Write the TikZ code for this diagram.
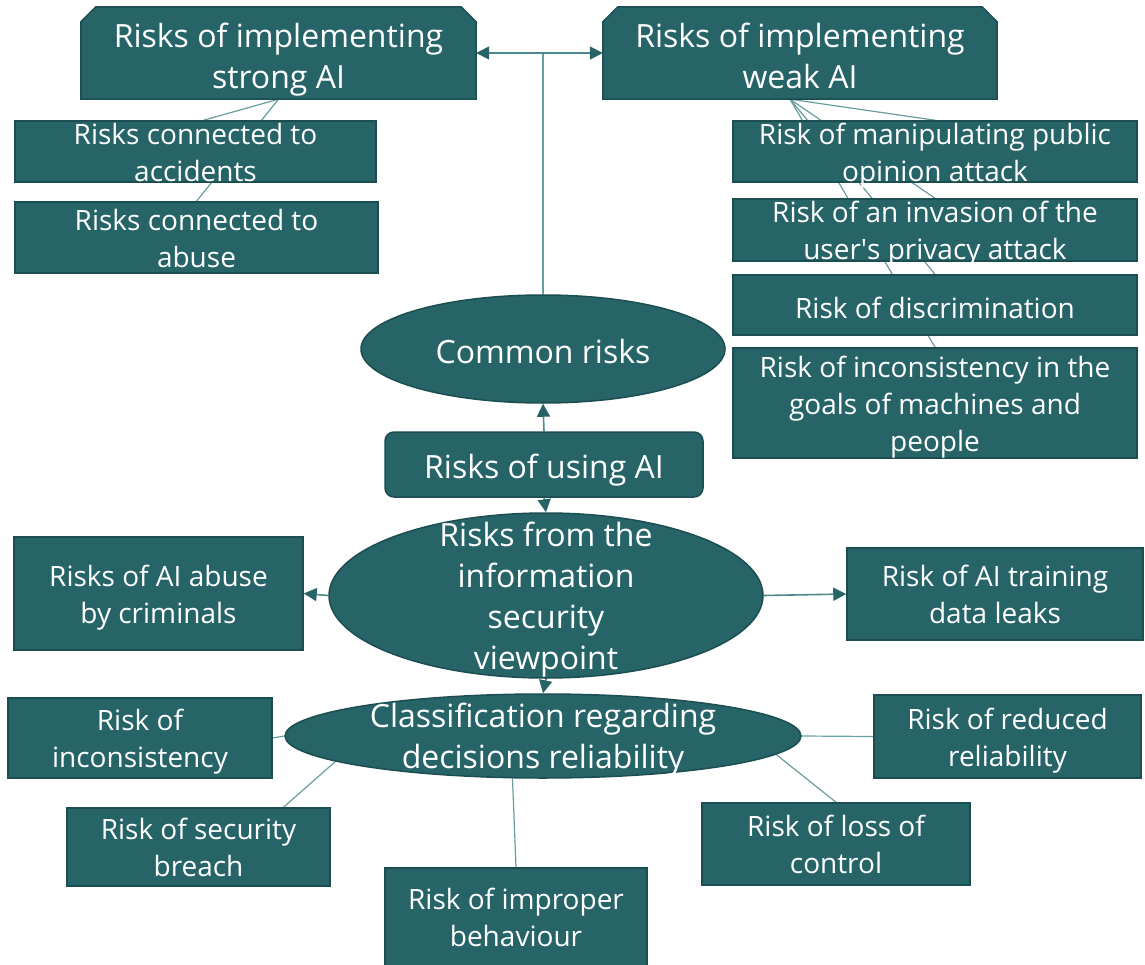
\documentclass[tikz,border=0pt]{standalone}
\usepackage{fontspec}
\setmainfont{Open Sans}
\usetikzlibrary{shapes.geometric,arrows.meta,calc}
\definecolor{boxfill}{RGB}{38,100,104}
\definecolor{boxline}{RGB}{28,78,81}
\definecolor{linkcol}{RGB}{104,156,158}
\definecolor{shaftcol}{RGB}{78,138,140}
\pgfdeclarelayer{links}
\pgfdeclarelayer{plates}
\pgfsetlayers{links,plates,main}

\begin{document}
\begin{tikzpicture}[x=1pt,y=-1pt,
  txt/.style={inner sep=0pt, text=white, align=center, yshift=-6pt,
    execute at begin node=\strut, execute at end node=\strut},
  bigtext/.style={font=\fontsize{32}{41}\selectfont},
  smalltext/.style={font=\fontsize{28}{37}\selectfont},
  riskbox/.style={rectangle, inner sep=0pt, fill=boxfill, draw=boxline, line width=1.5pt},
  oval/.style={ellipse, inner sep=0pt, fill=boxfill, draw=boxline, line width=1.5pt},
  headbox/.style={rectangle, inner sep=0pt},
  plate/.style={fill=boxfill, draw=boxline, line width=1.5pt},
  link/.style={draw=linkcol, line width=1.2pt},
  trunk/.style={draw=linkcol, line width=1.6pt},
  arrowlink/.style={draw=shaftcol, line width=1.6pt,
    -{Triangle[length=13pt,width=13pt,color=boxfill]}},
]
\useasboundingbox (0,0) rectangle (1145,965);

% --- top level: strong / weak AI ---
\node[headbox, minimum width=395pt, minimum height=92pt,
  label={[txt,bigtext,yshift=-3pt]center:{Risks of implementing\\strong AI}}] (strong) at (278.5,53) {};
\node[headbox, minimum width=394pt, minimum height=92pt,
  label={[txt,bigtext,yshift=-3pt]center:{Risks of implementing\\weak AI}}] (weak) at (800,53) {};

% strong AI children
\node[riskbox, minimum width=361pt, minimum height=61pt,
  label={[txt,smalltext]center:{Risks connected to\\accidents}}] (acc) at (195.5,151.5) {};
\node[riskbox, minimum width=363pt, minimum height=71pt,
  label={[txt,smalltext]center:{Risks connected to\\abuse}}] (abuse) at (196.5,237.5) {};

% weak AI children
\node[riskbox, minimum width=404pt, minimum height=61pt,
  label={[txt,smalltext]center:{Risk of manipulating public\\opinion attack}}] (manip) at (935,151.5) {};
\node[riskbox, minimum width=404pt, minimum height=62pt,
  label={[txt,smalltext]center:{Risk of an invasion of the\\user\textquotesingle s privacy attack}}] (privacy) at (935,230) {};
\node[riskbox, minimum width=404pt, minimum height=60pt,
  label={[txt,smalltext]center:{Risk of discrimination}}] (discr) at (935,305) {};
\node[riskbox, minimum width=404pt, minimum height=110pt,
  label={[txt,smalltext]center:{Risk of inconsistency in the\\goals of machines and\\people}}] (goals) at (935,403) {};

% --- centre column ---
\node[oval, minimum width=364pt, minimum height=108pt,
  label={[txt,bigtext]center:{Common risks}}] (common) at (543,349) {};
\node[riskbox, rounded corners=9pt, minimum width=318pt, minimum height=65pt,
  label={[txt,bigtext]center:{Risks of using AI}}] (using) at (544,464.5) {};
\node[oval, minimum width=434pt, minimum height=165pt,
  label={[txt,bigtext]center:{Risks from the\\information\\security\\viewpoint}}] (info) at (546,595.5) {};
\node[riskbox, minimum width=289pt, minimum height=113pt,
  label={[txt,smalltext]center:{Risks of AI abuse\\by criminals}}] (crim) at (158.5,593.5) {};
\node[riskbox, minimum width=296pt, minimum height=92pt,
  label={[txt,smalltext]center:{Risk of AI training\\data leaks}}] (train) at (995,594) {};

% --- decision reliability ---
\node[oval, minimum width=516pt, minimum height=84pt,
  label={[txt,bigtext]center:{Classification regarding\\decisions reliability}}] (cls) at (543,736) {};
\node[riskbox, minimum width=264pt, minimum height=80pt,
  label={[txt,smalltext]center:{Risk of\\inconsistency}}] (incons) at (140,738) {};
\node[riskbox, minimum width=263pt, minimum height=78pt,
  label={[txt,smalltext]center:{Risk of security\\breach}}] (breach) at (198.5,847) {};
\node[riskbox, minimum width=262pt, minimum height=98pt,
  label={[txt,smalltext]center:{Risk of improper\\behaviour}}] (improper) at (516,917) {};
\node[riskbox, minimum width=268pt, minimum height=82pt,
  label={[txt,smalltext]center:{Risk of loss of\\control}}] (control) at (836,844) {};
\node[riskbox, minimum width=267pt, minimum height=83pt,
  label={[txt,smalltext]center:{Risk of reduced\\reliability}}] (reduced) at (1007.5,736.5) {};

% chamfered plates behind the two head boxes
\begin{pgfonlayer}{plates}
\foreach \n in {strong,weak}
  \path[plate] (\n.south west) -- ($(\n.north west)+(0,15)$) -- ($(\n.north west)+(15,0)$)
    -- ($(\n.north east)+(-15,0)$) -- ($(\n.north east)+(0,15)$) -- (\n.south east) -- cycle;
\end{pgfonlayer}

% connectors, kept behind all shapes
\begin{pgfonlayer}{links}
\coordinate (fork) at (543,53);
\path[trunk] (common.north) -- (fork);
\path[arrowlink] (fork) -- (strong.east);
\path[arrowlink] (fork) -- (weak.west);

\path[link] (strong.south) -- ($(acc.north)+(8,0)$);
\path[link] (strong.south) -- (abuse.north);
\foreach \c in {manip,privacy,discr,goals}
  \path[link] ($(weak.south)+(-10,0)$) -- (\c.north);

\path[arrowlink] (using.north) -- (common.south);
\path[arrowlink] (using.south) -- (info.north);
\path[arrowlink] (info.west) -- (crim.east);
\path[arrowlink] (info.east) -- (train.west);
\path[arrowlink] (info.south) -- (cls.north);

\path[link] (cls.west) -- (incons.east);
\path[link] ($(breach.north)+(85,0)$) -- ($(cls.center)+(-198,17)$);
\path[link] (improper.north) -- ($(cls.center)+(-31,30)$);
\path[link] (control.north) -- ($(cls.center)+(225,12)$);
\path[link] (cls.east) -- (reduced.west);
\end{pgfonlayer}
\end{tikzpicture}
\end{document}
